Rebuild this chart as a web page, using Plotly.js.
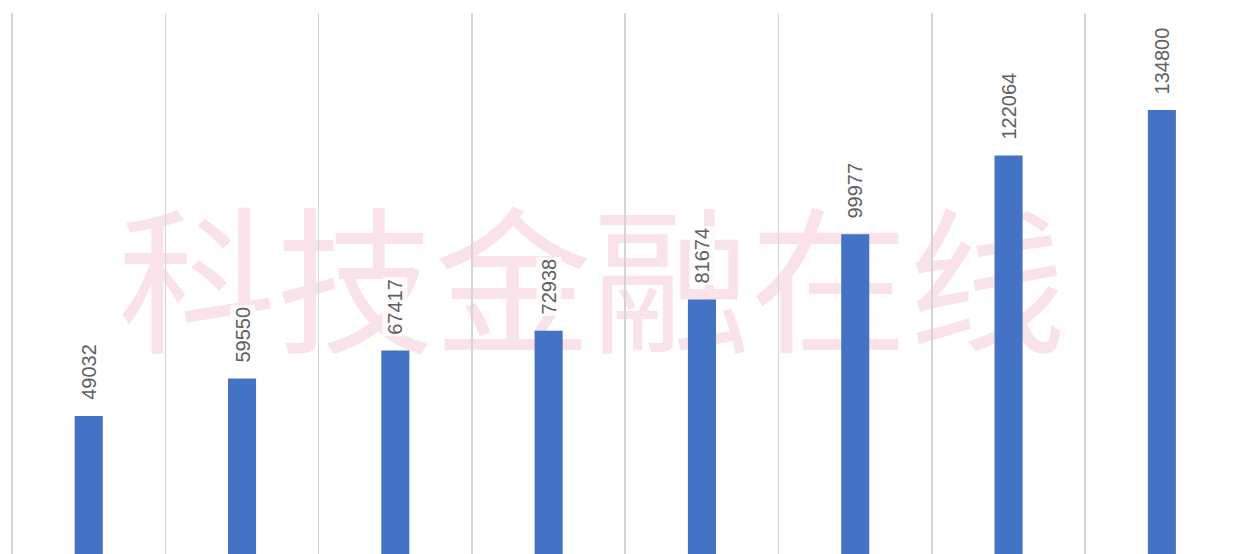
<!DOCTYPE html>
<html>
<head>
<meta charset="utf-8">
<script src="https://cdn.plot.ly/plotly-3.0.1.min.js"></script>
<style>html,body{margin:0;padding:0;background:#fff;}#chart{width:1235px;height:554px;}</style>
</head>
<body>
<div id="chart"></div>
<script>
const categories = ['2011','2012','2013','2014','2015','2016','2017','2018'];
const values = [49032, 59550, 67417, 72938, 81674, 99977, 122064, 134800];
const labels = ['49032','59550','67417','72938','81674','99977','122064','134800'];
const watermark = '科技金融在线';

const trace = {
  type: 'bar',
  x: categories,
  y: values,
  marker: {color: '#4472C4'},
  hoverinfo: 'none'
};

const annotations = categories.map((c, i) => ({
  x: i, y: values[i], xref: 'x', yref: 'y',
  text: labels[i], showarrow: false, textangle: -90,
  xanchor: 'center', yanchor: 'bottom', yshift: 14,
  bgcolor: 'rgba(255,255,255,0.85)',
  font: {family: 'Liberation Sans, Arial, sans-serif', size: 20, color: '#606060'}
}));

const layout = {
  width: 1235, height: 554,
  margin: {l: 9, r: 0, t: 13, b: 0},
  paper_bgcolor: '#ffffff', plot_bgcolor: '#ffffff',
  showlegend: false,
  bargap: 0.817,
  xaxis: {
    type: 'category', range: [-0.52, 7.477],
    tickson: 'boundaries', showgrid: true, gridcolor: '#d4d4d4', gridwidth: 1.6,
    showticklabels: false, ticks: '', zeroline: false, showline: false, fixedrange: true
  },
  yaxis: {
    range: [10370, 162000], showgrid: false, showticklabels: false,
    ticks: '', zeroline: false, showline: false, fixedrange: true
  },
  shapes: [{
    type: 'rect', xref: 'paper', yref: 'paper', x0: 0, x1: 0.951, y0: 0, y1: 0.95,
    line: {width: 0}, fillcolor: 'rgba(0,0,0,0)', layer: 'below',
    label: {text: watermark, textposition: 'middle center',
      font: {family: 'Noto Sans CJK SC, sans-serif', size: 158, color: 'rgba(232,140,158,0.24)'}}
  }],
  annotations: annotations
};

Plotly.newPlot('chart', [trace], layout, {displayModeBar: false, staticPlot: true});
</script>
</body>
</html>
